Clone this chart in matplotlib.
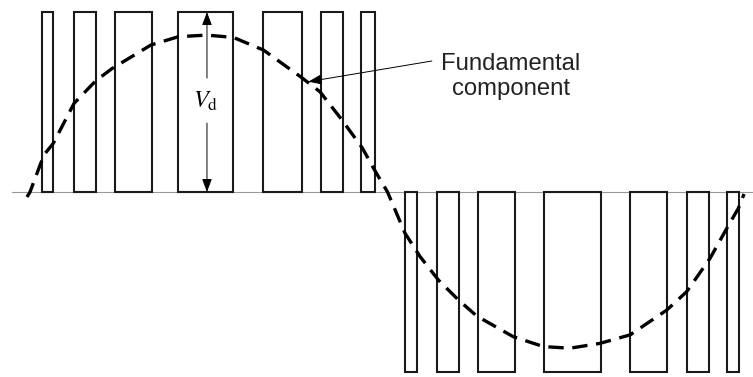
import numpy as np
import matplotlib.pyplot as plt

# Switching pulses (start/end angle in degrees), height = Vd
pos_start = [5.9, 22.2, 42.8, 74.7, 117.5, 146.4, 166.5]
pos_end = [11.7, 33.4, 61.6, 102.4, 136.8, 157.7, 173.7]
neg_start = [188.8, 204.8, 225.4, 258.9, 302.1, 330.6, 350.8]
neg_end = [194.7, 216.2, 244.3, 287.5, 320.9, 342.0, 357.0]
vd = 1.0

# Fundamental component traced as (angle, level)
fund_deg = [-1.5, 0.0, 7.0, 11.7, 22.2, 33.2, 41.3, 60.9, 74.7, 89.0,
            102.4, 117.5, 136.4, 146.0, 157.1, 167.4, 172.9, 180.0,
            188.8, 196.4, 205.6, 215.7, 224.9, 243.3, 258.5, 271.9,
            287.0, 302.1, 320.6, 330.6, 342.4, 350.8, 356.6, 359.5]
fund_val = [-0.028, 0.0, 0.206, 0.27, 0.493, 0.619, 0.686, 0.817, 0.863, 0.872,
            0.859, 0.789, 0.639, 0.557, 0.40, 0.243, 0.133, 0.0,
            -0.229, -0.359, -0.489, -0.60, -0.689, -0.804, -0.859, -0.868,
            -0.841, -0.794, -0.656, -0.554, -0.368, -0.202, -0.091, -0.011]

fig = plt.figure(figsize=(7.53, 3.77), dpi=100)
ax = fig.add_axes([0, 0, 1, 1])
ax.set_xlim(-15.1, 364.0)
ax.set_ylim(-1.028, 1.067)
ax.axis('off')

# zero line
ax.plot([-9.1, 370], [0, 0], color='#999999', lw=0.8, zorder=1)

edge = '#1a1a1a'
ax.bar(pos_start, vd, width=np.subtract(pos_end, pos_start), align='edge',
       fill=False, edgecolor=edge, linewidth=1.5, zorder=2)
ax.bar(neg_start, -vd, width=np.subtract(neg_end, neg_start), align='edge',
       fill=False, edgecolor=edge, linewidth=1.5, zorder=2)

ax.plot(fund_deg, fund_val, color='black', lw=2.4, dashes=(4.6, 2.6), zorder=3)

# Vd dimension arrow
vx = 89.1
arr = dict(arrowstyle='-|>,head_length=0.8,head_width=0.3', color='black',
           lw=0.7, shrinkA=0, shrinkB=0, mutation_scale=10)
ax.annotate('', xy=(vx, vd), xytext=(vx, 0.633), arrowprops=arr)
ax.annotate('', xy=(vx, 0.0), xytext=(vx, 0.383), arrowprops=arr)
ax.text(vx - 0.5, 0.505, r'$V_{\mathrm{d}}$', ha='center', va='center',
        fontsize=17.5, math_fontfamily='stix')

# label for the fundamental
ax.annotate('', xy=(140.1, 0.613), xytext=(202.3, 0.728), arrowprops=arr)
ax.text(242.2, 0.643, 'Fundamental\ncomponent', ha='center', va='center',
        multialignment='center', fontsize=17.2, family='Liberation Sans',
        color='#222222', linespacing=1.2)

fig.savefig('out.png', dpi=100)
